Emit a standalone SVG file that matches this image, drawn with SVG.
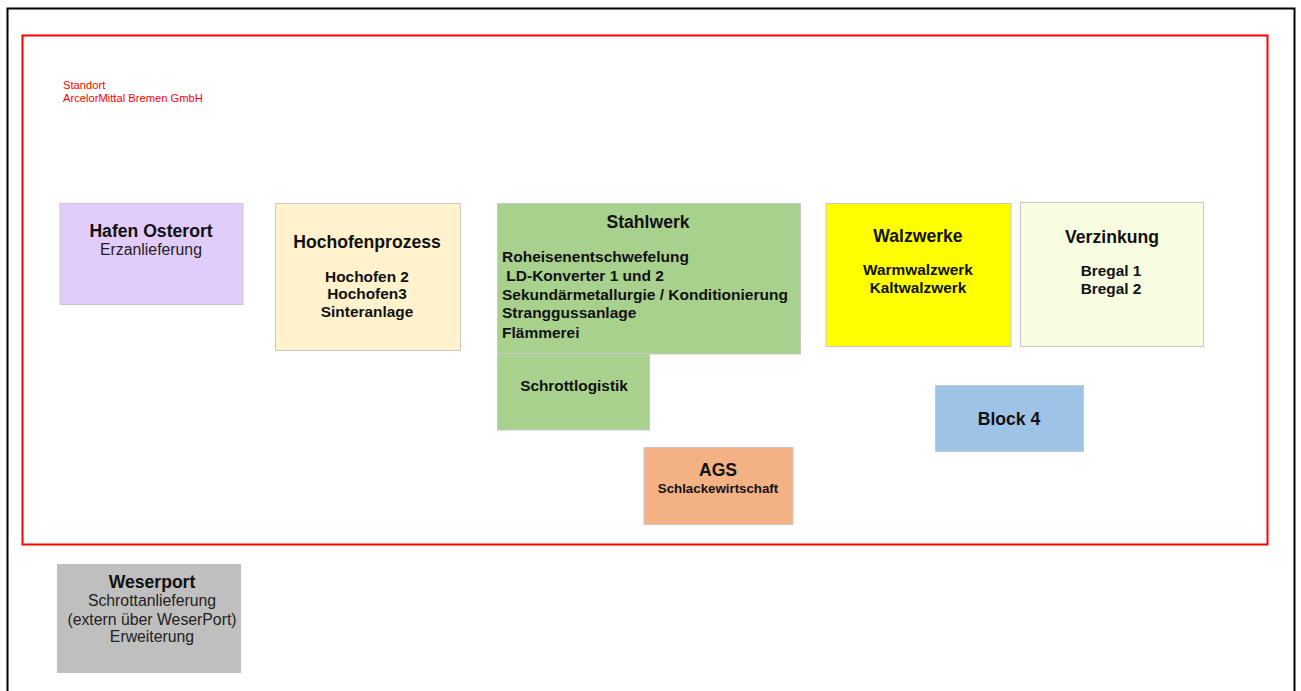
<svg xmlns="http://www.w3.org/2000/svg" width="1301" height="691" viewBox="0 0 1301 691">
<style>
text{font-family:"Liberation Sans",Arial,sans-serif;fill:#111;}
.t{font-weight:bold;font-size:17.6px;text-anchor:middle;}
.b{font-weight:bold;font-size:15.5px;}
.bc{font-weight:bold;font-size:15.4px;text-anchor:middle;}
.n{font-size:15.8px;text-anchor:middle;fill:#222;}
.box{stroke:#c8c8c8;stroke-width:1;}
.red{font-size:11.2px;fill:#ff0000;}
</style>
<rect x="0" y="0" width="1301" height="691" fill="#fff"/>
<rect x="7.5" y="8.5" width="1287" height="700" fill="none" stroke="#000" stroke-width="2"/>
<rect x="22.5" y="35.5" width="1245" height="509" fill="none" stroke="#ff0000" stroke-width="2"/>
<g id="standort">
<text class="red" x="63" y="89">Standort</text>
<text class="red" x="63" y="102">ArcelorMittal Bremen GmbH</text>
</g>
<g id="hafen">
<rect class="box" x="60" y="203.5" width="183" height="101" fill="#e2ccfb"/>
<text class="t" x="151" y="237">Hafen Osterort</text>
<text class="n" x="151" y="255">Erzanlieferung</text>
</g>
<g id="hochofen">
<rect class="box" x="275.5" y="203.5" width="185" height="147" fill="#fff2cc"/>
<text class="t" x="367" y="248">Hochofenprozess</text>
<text class="bc" x="367" y="282">Hochofen 2</text>
<text class="bc" x="367" y="299">Hochofen3</text>
<text class="bc" x="367" y="317">Sinteranlage</text>
</g>
<g id="stahlwerk">
<rect class="box" x="497.5" y="203.5" width="303" height="150.5" fill="#a9d18e"/>
<text class="t" x="648" y="228">Stahlwerk</text>
<text class="b" x="502" y="262">Roheisenentschwefelung</text>
<text class="b" x="502" y="281" xml:space="preserve"> LD-Konverter 1 und 2</text>
<text class="b" x="502" y="300">Sekundärmetallurgie / Konditionierung</text>
<text class="b" x="502" y="318">Stranggussanlage</text>
<text class="b" x="502" y="338">Flämmerei</text>
</g>
<g id="schrottlogistik">
<rect class="box" x="497.5" y="354" width="152" height="76" fill="#a9d18e"/>
<text class="bc" x="574" y="391">Schrottlogistik</text>
</g>
<g id="ags">
<rect class="box" x="644" y="447.5" width="149" height="77" fill="#f4b183"/>
<text class="t" x="718" y="476">AGS</text>
<text x="718" y="493" style="font-weight:bold;font-size:13.3px;text-anchor:middle">Schlackewirtschaft</text>
</g>
<g id="walzwerke">
<rect class="box" x="826" y="203.5" width="185" height="143" fill="#ffff00"/>
<text class="t" x="918" y="242">Walzwerke</text>
<text class="bc" x="918" y="275">Warmwalzwerk</text>
<text class="bc" x="918" y="293">Kaltwalzwerk</text>
</g>
<g id="verzinkung">
<rect class="box" x="1020.5" y="202.5" width="183" height="144" fill="#f8fce0"/>
<text class="t" x="1112" y="243">Verzinkung</text>
<text class="bc" x="1111" y="276">Bregal 1</text>
<text class="bc" x="1111" y="294">Bregal 2</text>
</g>
<g id="block4">
<rect class="box" x="935.5" y="385.5" width="148" height="66" fill="#9dc3e6"/>
<text class="t" x="1009" y="425">Block 4</text>
</g>
<g id="weserport">
<rect x="57" y="564" width="184" height="109" fill="#bfbfbf"/>
<text class="t" x="152" y="588">Weserport</text>
<text class="n" x="152" y="606">Schrottanlieferung</text>
<text class="n" x="152" y="625">(extern über WeserPort)</text>
<text class="n" x="152" y="642">Erweiterung</text>
</g>
<g id="connectors"></g>
</svg>
